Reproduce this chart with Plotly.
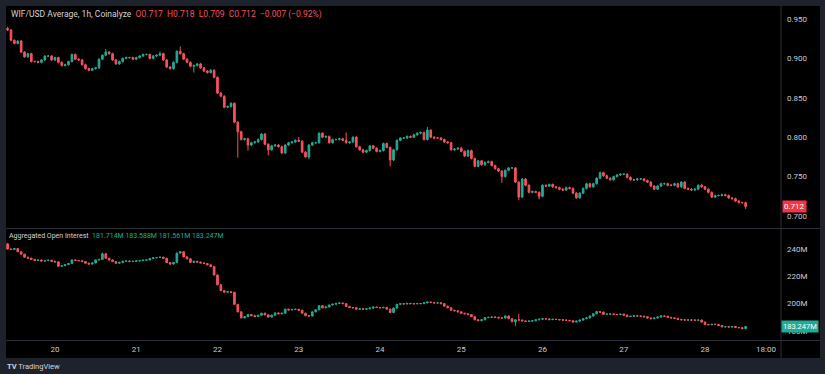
import pandas as pd
import plotly.graph_objects as go

W, H = 825, 374
START = "2025-06-19 10:00"

PRICE_OPEN0 = 0.938
PRICE_CLOSE = [
    0.936, 0.923, 0.919, 0.922, 0.908, 0.902, 0.906, 0.896, 0.896, 0.895,
    0.898, 0.903, 0.903, 0.898, 0.901, 0.895, 0.891, 0.892, 0.896, 0.905,
    0.899, 0.898, 0.892, 0.887, 0.885, 0.887, 0.888, 0.899, 0.904, 0.908,
    0.906, 0.898, 0.893, 0.896, 0.900, 0.901, 0.901, 0.899, 0.901, 0.903,
    0.905, 0.905, 0.900, 0.903, 0.904, 0.906, 0.898, 0.889, 0.887, 0.895,
    0.909, 0.906, 0.899, 0.895, 0.890, 0.891, 0.893, 0.888, 0.884, 0.882,
    0.885, 0.876, 0.856, 0.852, 0.838, 0.839, 0.843, 0.819, 0.807, 0.797,
    0.798, 0.790, 0.793, 0.794, 0.797, 0.804, 0.791, 0.784, 0.789, 0.790,
    0.788, 0.780, 0.790, 0.793, 0.794, 0.796, 0.795, 0.781, 0.775, 0.790,
    0.793, 0.793, 0.805, 0.800, 0.801, 0.793, 0.797, 0.797, 0.798, 0.796,
    0.793, 0.794, 0.800, 0.788, 0.784, 0.781, 0.783, 0.789, 0.786, 0.782,
    0.783, 0.792, 0.787, 0.771, 0.784, 0.796, 0.799, 0.799, 0.801, 0.800,
    0.803, 0.805, 0.806, 0.797, 0.809, 0.800, 0.799, 0.799, 0.797, 0.794,
    0.793, 0.784, 0.785, 0.786, 0.782, 0.776, 0.783, 0.773, 0.763, 0.770,
    0.765, 0.768, 0.769, 0.764, 0.760, 0.757, 0.750, 0.758, 0.761, 0.761,
    0.743, 0.724, 0.747, 0.739, 0.730, 0.731, 0.730, 0.725, 0.739, 0.738,
    0.740, 0.737, 0.736, 0.734, 0.733, 0.736, 0.735, 0.729, 0.723, 0.729,
    0.735, 0.741, 0.737, 0.741, 0.748, 0.755, 0.751, 0.748, 0.746, 0.750,
    0.752, 0.753, 0.753, 0.749, 0.746, 0.746, 0.747, 0.747, 0.745, 0.743,
    0.738, 0.734, 0.738, 0.741, 0.741, 0.739, 0.739, 0.741, 0.737, 0.743,
    0.735, 0.734, 0.733, 0.734, 0.739, 0.737, 0.734, 0.730, 0.724, 0.726,
    0.726, 0.727, 0.726, 0.723, 0.722, 0.719, 0.717, 0.717, 0.712,
]
PRICE_HIGH_WICKS = {0: 0.940, 29: 0.912, 45: 0.909, 51: 0.915, 86: 0.800,
                    100: 0.806, 124: 0.813, 205: 0.741, 218: 0.718}
PRICE_LOW_WICKS = {55: 0.882, 68: 0.774, 71: 0.783, 77: 0.777, 89: 0.772,
                   113: 0.763, 146: 0.742, 151: 0.720, 157: 0.721, 218: 0.709}

OI_OPEN0 = 243.8
OI_CLOSE = [
    240.0, 239.6, 240.3, 238.0, 236.2, 234.0, 233.3, 232.4, 231.6, 231.9,
    231.2, 231.5, 231.8, 231.0, 230.6, 227.4, 227.8, 228.6, 229.4, 232.0,
    231.6, 231.4, 230.8, 229.6, 229.0, 229.8, 232.0, 232.4, 236.5, 233.2,
    232.0, 230.8, 229.6, 230.2, 231.0, 231.2, 230.8, 231.0, 231.3, 231.5,
    231.8, 232.0, 233.0, 233.6, 233.8, 234.0, 233.2, 230.0, 229.0, 230.2,
    237.0, 238.0, 234.2, 232.8, 230.2, 231.0, 230.4, 229.8, 229.4, 228.4,
    227.2, 221.0, 213.8, 209.5, 208.4, 208.8, 208.3, 199.5, 194.0, 189.6,
    190.5, 192.0, 191.2, 190.6, 191.5, 193.0, 191.8, 190.2, 191.6, 193.2,
    192.6, 193.0, 196.0, 195.4, 195.8, 195.9, 195.2, 193.0, 191.2, 191.0,
    194.0, 195.5, 198.5, 197.0, 197.6, 199.0, 199.6, 200.2, 200.5, 200.0,
    198.0, 197.2, 197.0, 196.0, 196.2, 195.9, 196.3, 196.8, 197.5, 197.2,
    197.0, 197.3, 196.0, 193.5, 196.8, 199.5, 200.0, 199.8, 200.2, 200.0,
    199.9, 200.1, 200.0, 200.6, 201.2, 200.8, 200.5, 200.6, 200.0, 198.2,
    197.0, 195.2, 194.8, 194.0, 193.0, 192.6, 192.0, 190.5, 188.2, 187.6,
    188.2, 189.8, 190.0, 190.2, 190.0, 189.6, 189.5, 191.0, 189.0, 186.8,
    188.2, 188.0, 187.4, 187.0, 187.3, 187.5, 188.2, 188.6, 189.0, 188.8,
    188.3, 188.6, 188.4, 188.2, 188.0, 187.8, 187.5, 186.5, 187.2, 188.0,
    189.0, 189.6, 191.0, 192.6, 194.2, 193.8, 192.2, 192.4, 192.5, 192.1,
    192.0, 192.3, 191.6, 190.5, 190.8, 191.2, 191.0, 190.8, 190.4, 189.5,
    189.0, 189.5, 190.2, 191.0, 190.8, 190.0, 189.6, 189.2, 188.5, 188.2,
    188.0, 188.1, 188.0, 187.9, 188.0, 186.5, 184.8, 184.6, 184.9, 184.8,
    184.0, 183.0, 183.2, 182.9, 183.3, 182.6, 182.4, 181.714, 183.247,
]
OI_HIGH_WICKS = {28: 237.5, 151: 192.6, 218: 183.588}
OI_LOW_WICKS = {150: 183.5, 218: 181.561}

PRICE_TICKS = [0.700, 0.750, 0.800, 0.850, 0.900, 0.950]
OI_TICKS = [180, 200, 220, 240]
OI_TICK_TEXT = ["180M", "200M", "220M", "240M"]
X_TICKS = ["2025-06-20", "2025-06-21", "2025-06-22", "2025-06-23", "2025-06-24",
           "2025-06-25", "2025-06-26", "2025-06-27", "2025-06-28", "2025-06-28 18:00"]
X_TICK_TEXT = ["20", "21", "22", "23", "24", "25", "26", "27", "28", "18:00"]
PRICE_TITLE = "WIF/USD Average, 1h, Coinalyze"
PRICE_CHANGE_TEXT = "\u22120.007 (\u22120.92%)"
OI_TITLE = "Aggregated Open Interest"

assert len(PRICE_CLOSE) == 219 and len(OI_CLOSE) == 219

UP = "#22ab94"
DN = "#f7525f"
TXT = "#c9ccd4"
SEP = "#2a2e39"
FONT = "Roboto"


def ohlc(open0, close, hi_w, lo_w, pad):
    o = [open0] + close[:-1]
    h = [hi_w.get(i, max(o[i], close[i]) + pad) for i in range(len(close))]
    l = [lo_w.get(i, min(o[i], close[i]) - pad) for i in range(len(close))]
    return o, h, l


times = pd.date_range(START, periods=len(PRICE_CLOSE), freq="h")
po, ph, pl = ohlc(PRICE_OPEN0, PRICE_CLOSE, PRICE_HIGH_WICKS, PRICE_LOW_WICKS, 0.0012)
oo, oh, ol = ohlc(OI_OPEN0, OI_CLOSE, OI_HIGH_WICKS, OI_LOW_WICKS, 0.35)


def px(x):
    return x / W


def py(y):
    return 1 - y / H


fig = go.Figure()
style = dict(
    increasing=dict(line=dict(color=UP, width=1), fillcolor=UP),
    decreasing=dict(line=dict(color=DN, width=1), fillcolor=DN),
    whiskerwidth=0, hoverinfo="skip", showlegend=False,
)
fig.add_trace(go.Candlestick(x=times, open=po, high=ph, low=pl, close=PRICE_CLOSE,
                             xaxis="x", yaxis="y", **style))
fig.add_trace(go.Candlestick(x=times, open=oo, high=oh, low=ol, close=OI_CLOSE,
                             xaxis="x2", yaxis="y2", **style))

t_day20 = pd.Timestamp("2025-06-20 00:00")
per_hour = 81.25 / 24
x_left = t_day20 + pd.Timedelta(hours=(6 - 55) / per_hour)
x_right = t_day20 + pd.Timedelta(hours=(781 - 55) / per_hour)

p_per_px = 788.0
price_top = 0.950 + (19 - 6) / p_per_px
price_bot = 0.700 - (228 - 216) / p_per_px
oi_px = 82 / 60
oi_top = 240 + (249 - 229) / oi_px
oi_bot = 180 - (340 - 331) / oi_px

axis_common = dict(showgrid=False, zeroline=False, showline=False, ticks="",
                   tickfont=dict(family=FONT, size=8, color=TXT))

fig.update_layout(
    width=W, height=H,
    margin=dict(l=0, r=0, t=0, b=0),
    paper_bgcolor="#1e222d",
    plot_bgcolor="#000000",
    font=dict(family=FONT, size=8, color=TXT),
    hovermode=False,
    xaxis=dict(domain=[px(6), px(781)], anchor="y", range=[x_left, x_right],
               showticklabels=False, rangeslider=dict(visible=False),
               **axis_common),
    xaxis2=dict(domain=[px(6), px(781)], anchor="y2", range=[x_left, x_right],
                tickvals=X_TICKS, ticktext=X_TICK_TEXT, ticklabelstandoff=3,
                rangeslider=dict(visible=False), **axis_common),
    yaxis=dict(domain=[py(228), py(6)], anchor="x", side="right",
               range=[price_bot, price_top], tickvals=PRICE_TICKS,
               ticktext=[f"{v:.3f}" for v in PRICE_TICKS], ticklabelstandoff=5,
               **axis_common),
    yaxis2=dict(domain=[py(340), py(229)], anchor="x2", side="right",
                range=[oi_bot, oi_top], tickvals=OI_TICKS, ticktext=OI_TICK_TEXT,
                ticklabelstandoff=5, **axis_common),
)

shapes = [
    dict(type="rect", xref="paper", yref="paper", x0=px(781), x1=px(820),
         y0=py(358), y1=py(6), fillcolor="#000000", line=dict(width=0), layer="below"),
    dict(type="rect", xref="paper", yref="paper", x0=px(6), x1=px(781),
         y0=py(358), y1=py(340), fillcolor="#000000", line=dict(width=0), layer="below"),
    dict(type="line", xref="paper", yref="paper", x0=px(781), x1=px(781),
         y0=py(358), y1=py(6), line=dict(color=SEP, width=1)),
    dict(type="line", xref="paper", yref="paper", x0=px(6), x1=px(820),
         y0=py(228.5), y1=py(228.5), line=dict(color=SEP, width=1)),
    dict(type="line", xref="paper", yref="paper", x0=px(6), x1=px(820),
         y0=py(340.5), y1=py(340.5), line=dict(color=SEP, width=1)),
]
fig.update_layout(shapes=shapes)

last = len(PRICE_CLOSE) - 1
ohlc_txt = (f"O{po[last]:.3f}  H{ph[last]:.3f}  L{pl[last]:.3f}  "
            f"C{PRICE_CLOSE[last]:.3f}  {PRICE_CHANGE_TEXT}")
oi_txt = f"{oo[last]:.3f}M {oh[last]:.3f}M {ol[last]:.3f}M {OI_CLOSE[last]:.3f}M"

legend1 = (f"<span style='color:#d1d4dc'>{PRICE_TITLE}</span>  "
           f"<span style='color:{DN}'>{ohlc_txt}</span>")
legend2 = (f"<span style='color:#d1d4dc'>{OI_TITLE}</span>  "
           f"<span style='color:{UP}'>{oi_txt}</span>")

ann = [
    dict(text=legend1, x=px(9), y=py(14), size=8.5),
    dict(text=legend2, x=px(7), y=py(236), size=7),
    dict(text="<b>TV</b> TradingView", x=px(5), y=py(366), size=7.5),
]
for a in ann:
    fig.add_annotation(text=a["text"], xref="paper", yref="paper", x=a["x"], y=a["y"],
                       xanchor="left", yanchor="middle", showarrow=False,
                       font=dict(family=FONT, size=a["size"], color="#d1d4dc"))

fig.add_annotation(text=f"{PRICE_CLOSE[last]:.3f}", xref="paper", yref="y",
                   x=px(782), y=PRICE_CLOSE[last], xanchor="left", yanchor="middle",
                   showarrow=False, bgcolor="#f23645", borderpad=1,
                   font=dict(family=FONT, size=8, color="#ffffff"))
fig.add_annotation(text=f"{OI_CLOSE[last]:.3f}M", xref="paper", yref="y2",
                   x=px(781), y=OI_CLOSE[last], xanchor="left", yanchor="middle",
                   showarrow=False, bgcolor=UP, borderpad=1,
                   font=dict(family=FONT, size=7.5, color="#ffffff"))

fig.write_html("out.html", config={"displayModeBar": False, "staticPlot": True},
               post_script="document.body.style.margin='0';document.body.style.background='#1e222d';")
